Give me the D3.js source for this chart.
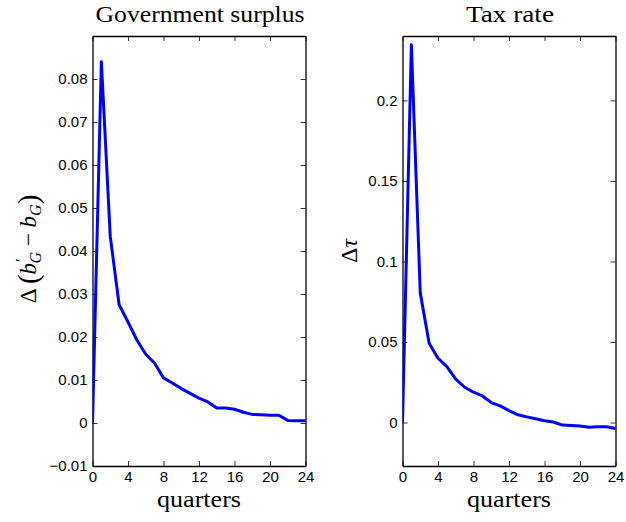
<!DOCTYPE html>
<html><head><meta charset="utf-8">
<script src="https://cdn.jsdelivr.net/npm/d3@7"></script>
<style>
html,body{margin:0;padding:0;background:#fff;}
svg{display:block;}
</style></head>
<body>
<script>
const quarters = d3.range(0, 25);
const surplus = [0, 0.0840, 0.0434, 0.0275, 0.0235, 0.0193, 0.0160, 0.0139, 0.0105, 0.0093, 0.0080, 0.0069, 0.0058, 0.0049, 0.0035, 0.0035, 0.0032, 0.0025, 0.0020, 0.0019, 0.0018, 0.0018, 0.0006, 0.0005, 0.0005];
const taxRate = [0, 0.2346, 0.0805, 0.0492, 0.0399, 0.0347, 0.0269, 0.0219, 0.0188, 0.0165, 0.0124, 0.0103, 0.0074, 0.0048, 0.0035, 0.0023, 0.0011, 0.0003, -0.0016, -0.0018, -0.0022, -0.0030, -0.0026, -0.0026, -0.0037];
const xTicks = [0, 4, 8, 12, 16, 20, 24];
const surplusTicks = [-0.01, 0, 0.01, 0.02, 0.03, 0.04, 0.05, 0.06, 0.07, 0.08];
const surplusTickLabels = ["\u22120.01", "0", "0.01", "0.02", "0.03", "0.04", "0.05", "0.06", "0.07", "0.08"];
const taxTicks = [0, 0.05, 0.1, 0.15, 0.2];
const taxTickLabels = ["0", "0.05", "0.1", "0.15", "0.2"];
const titles = ["Government surplus", "Tax rate"];

const W = 626, H = 522;
const SERIF = "Liberation Serif, DejaVu Serif, serif";
const SANS = "Liberation Sans, Arial, Helvetica, sans-serif";
const svg = d3.select("body").append("svg").attr("width", W).attr("height", H);

const plotTop = 36, plotBottom = 466;

function styleTicks(a) {
  a.attr("font-family", SANS).attr("font-size", 15);
  a.selectAll(".tick text").attr("fill", "#000");
}

function panel(id, x0, x1, values, yDom, yTicks, yLabels, title, titleLen) {
  const x = d3.scaleLinear().domain([0, 24]).range([x0, x1]);
  const y = d3.scaleLinear().domain(yDom).range([plotBottom, plotTop]);
  const g = svg.append("g");
  g.append("clipPath").attr("id", "clip" + id).append("rect")
    .attr("x", x0).attr("y", plotTop).attr("width", x1 - x0).attr("height", plotBottom - plotTop);

  const tl = 5;
  const bx = g.append("g").attr("transform", `translate(0,${plotBottom})`)
    .call(d3.axisBottom(x).tickValues(xTicks).tickSizeInner(-tl).tickSizeOuter(0).tickPadding(5));
  const tx = g.append("g").attr("transform", `translate(0,${plotTop})`)
    .call(d3.axisTop(x).tickValues(xTicks).tickSizeInner(-tl).tickSizeOuter(0).tickFormat(""));
  const ly = g.append("g").attr("transform", `translate(${x0},0)`)
    .call(d3.axisLeft(y).tickValues(yTicks).tickSizeInner(-tl).tickSizeOuter(0).tickPadding(5)
      .tickFormat((d, i) => yLabels[i]));
  const ry = g.append("g").attr("transform", `translate(${x1},0)`)
    .call(d3.axisRight(y).tickValues(yTicks).tickSizeInner(-tl).tickSizeOuter(0).tickFormat(""));
  [bx, tx, ly, ry].forEach(a => {
    styleTicks(a);
    a.selectAll(".domain").attr("stroke", "#000").attr("stroke-width", 1.3);
    a.selectAll(".tick line").attr("stroke", "#000").attr("stroke-width", 0.8);
  });
  bx.selectAll(".tick text").attr("dy", "0.71em");

  const line = d3.line().x((d, i) => x(quarters[i])).y(d => y(d));
  g.append("path").datum(values)
    .attr("clip-path", `url(#clip${id})`)
    .attr("d", line).attr("fill", "none").attr("stroke", "#0000ff")
    .attr("stroke-width", 3).attr("stroke-linejoin", "round");

  const cx = (x0 + x1) / 2;
  g.append("text").attr("font-family", SERIF).attr("fill", "#000").attr("x", cx + 1).attr("y", 22)
    .attr("text-anchor", "middle").attr("font-size", 23)
    .attr("textLength", titleLen).attr("lengthAdjust", "spacingAndGlyphs").text(title);
  g.append("text").attr("font-family", SERIF).attr("fill", "#000").attr("x", cx).attr("y", 507)
    .attr("text-anchor", "middle").attr("font-size", 23)
    .attr("textLength", 84).attr("lengthAdjust", "spacingAndGlyphs").text("quarters");
  return g;
}

const g1 = panel(1, 92.5, 305.5, surplus, [-0.01, 0.09], surplusTicks, surplusTickLabels, titles[0], 209);
const g2 = panel(2, 402.5, 615.5, taxRate, [-0.027, 0.24], taxTicks, taxTickLabels, titles[1], 88);

// Y labels
const yl1 = svg.append("text").attr("font-family", SERIF).attr("fill", "#000").attr("font-size", 23)
  .attr("transform", "translate(36,249) rotate(-90)").attr("text-anchor", "middle");
yl1.append("tspan").text("\u0394 ");
yl1.append("tspan").attr("font-size", 29).attr("dy", 2).text("(");
yl1.append("tspan").attr("dy", -2).attr("font-style", "italic").text("b");
yl1.append("tspan").attr("dy", -9).attr("dx", 1).attr("font-size", 16).text("\u2032");
yl1.append("tspan").attr("dy", 14).attr("dx", -5).attr("font-size", 16).attr("font-style", "italic").text("G");
yl1.append("tspan").attr("dy", -5).text(" \u2212 ");
yl1.append("tspan").attr("font-style", "italic").text("b");
yl1.append("tspan").attr("dy", 5).attr("font-size", 16).attr("font-style", "italic").text("G");
yl1.append("tspan").attr("dy", -3).attr("font-size", 29).text(")");

const yl2 = svg.append("text").attr("font-family", SERIF).attr("fill", "#000").attr("font-size", 24)
  .attr("transform", "translate(357,251) rotate(-90)").attr("text-anchor", "middle");
yl2.append("tspan").text("\u0394");
yl2.append("tspan").attr("font-style", "italic").text("\u03c4");
</script>
</body></html>
